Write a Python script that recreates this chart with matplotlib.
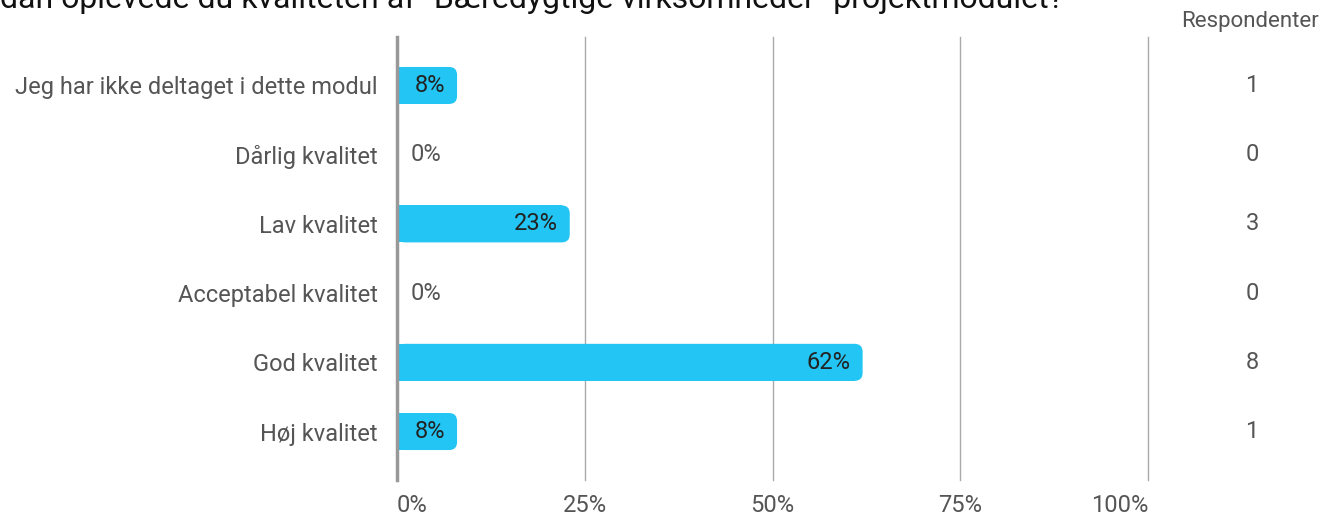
import numpy as np
import matplotlib.pyplot as plt
from matplotlib.patches import FancyBboxPatch

plt.rcParams['font.family'] = ['Roboto', 'DejaVu Sans']

categories = ['Jeg har ikke deltaget i dette modul', 'Dårlig kvalitet', 'Lav kvalitet',
              'Acceptabel kvalitet', 'God kvalitet', 'Høj kvalitet']
percent = [8, 0, 23, 0, 62, 8]
respondents = [1, 0, 3, 0, 8, 1]
xticks = [0, 25, 50, 75, 100]
title = 'dan oplevede du kvaliteten af "Bæredygtige virksomheder" projektmodulet?'

W, H = 1329, 515
fs = 17
fig = plt.figure(figsize=(W / 100, H / 100), dpi=100)
ax = fig.add_axes([397 / W, 35 / H, 751 / W, 443 / H])

ax.set_xlim(0, 100)
ax.set_ylim(5.7, -0.7)

# pixel -> data scale factors
px_x = 100 / 751
px_y = 6.4 / 443
bar_h = 37 * px_y
rad = 8
barcol = '#22c5f3'

for i, v in enumerate(percent):
    if v > 0:
        ax.barh(i, max(v - rad * px_x, 0), height=bar_h, color=barcol, zorder=3)
        box = FancyBboxPatch((0, i - bar_h / 2), v, bar_h,
                             boxstyle='round,pad=0,rounding_size=%f' % (rad * px_x),
                             mutation_aspect=px_y / px_x, fc=barcol, ec='none', zorder=3)
        ax.add_patch(box)
        ax.text(v - 12 * px_x, i, '%d%%' % v, ha='right', va='center',
                fontsize=fs, color='#222222', zorder=4)
    else:
        ax.text(14 * px_x, i, '%d%%' % v, ha='left', va='center',
                fontsize=fs, color='#555555', zorder=4)
    ax.text(1.1385, i, str(respondents[i]), transform=ax.get_yaxis_transform(),
            ha='center', va='center', fontsize=fs, color='#555555')

ax.set_yticks(range(len(categories)))
ax.set_yticklabels(categories, fontsize=fs, color='#555555')
ax.set_xticks(xticks)
ax.set_xticklabels(['%d%%' % t for t in xticks], fontsize=fs, color='#555555')
xl = ax.get_xticklabels()
xl[0].set_ha('left')
xl[-1].set_ha('right')
ax.tick_params(axis='both', length=0)
ax.tick_params(axis='y', pad=14)
ax.tick_params(axis='x', pad=10)

ax.grid(axis='x', color='#aaaaaa', linewidth=1, zorder=0)
for gl in ax.get_xgridlines():
    gl.set_clip_on(False)
for s in ['top', 'right', 'bottom']:
    ax.spines[s].set_visible(False)
ax.spines['left'].set_color('#999999')
ax.spines['left'].set_linewidth(2.5)
ax.spines['left'].set_zorder(5)

fig.text(1250 / W, 1 - 22 / H, 'Respondenter', ha='center', va='center',
         fontsize=16, color='#555555')
fig.text(0, 1 - 8 / H, title, ha='left', va='baseline', fontsize=23, color='#111111')

fig.savefig('out.png', dpi=100)
